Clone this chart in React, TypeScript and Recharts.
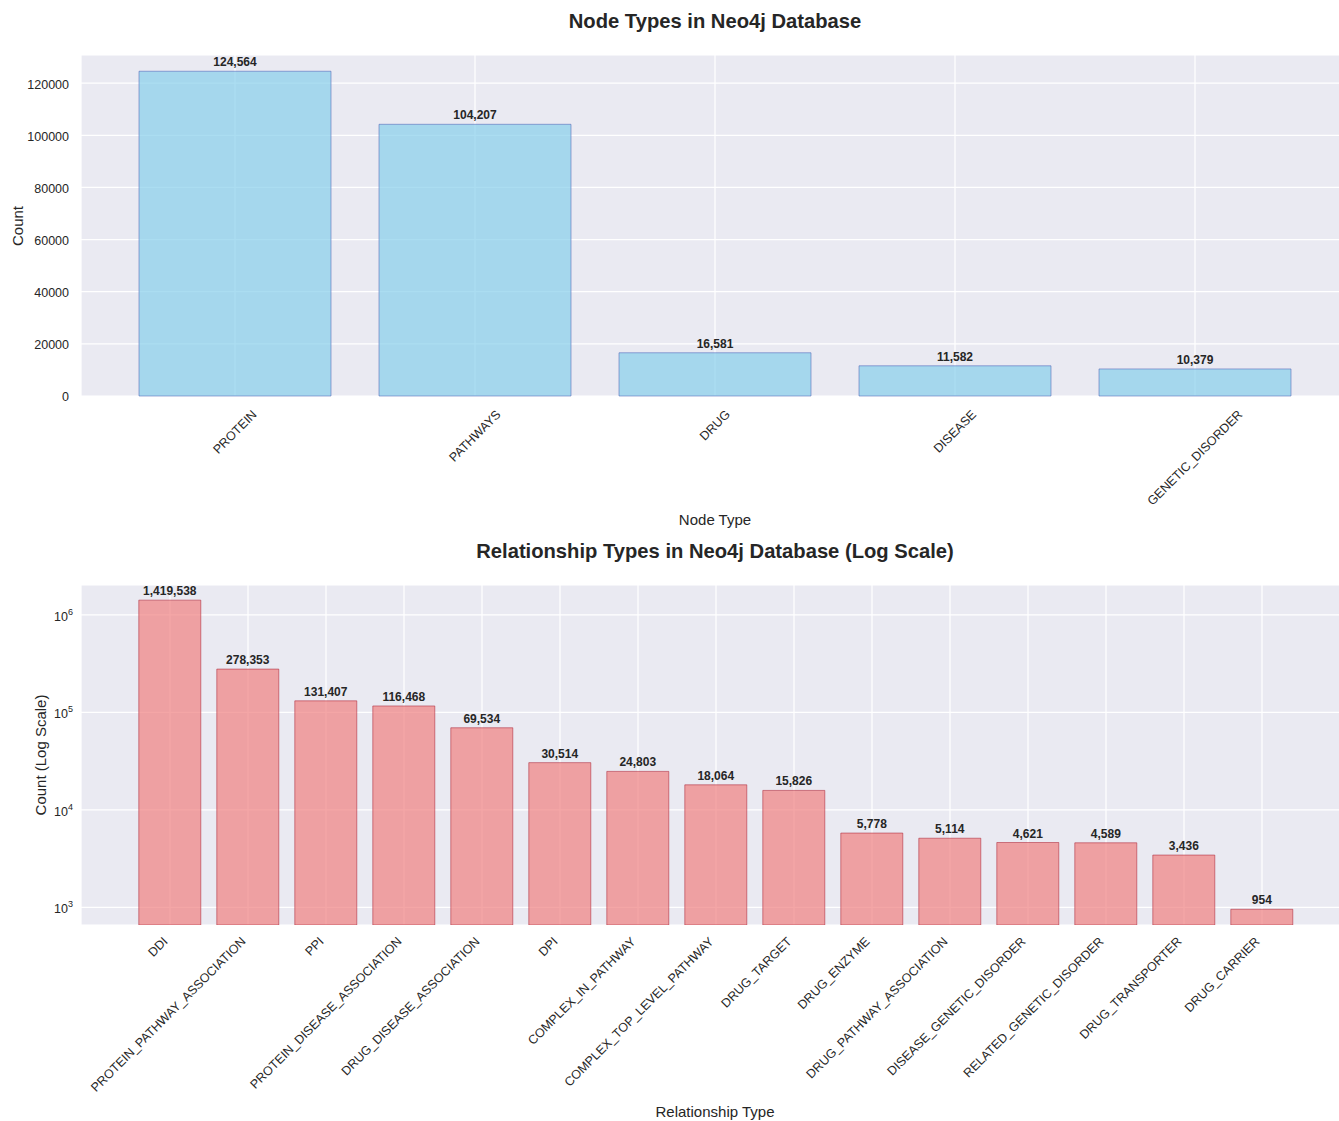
import React from "react";
import { BarChart, Bar, XAxis, YAxis, CartesianGrid } from "recharts";

const nodeTypes = ["PROTEIN", "PATHWAYS", "DRUG", "DISEASE", "GENETIC_DISORDER"];
const nodeCounts = [124564, 104207, 16581, 11582, 10379];
const nodeTicks = [0, 20000, 40000, 60000, 80000, 100000, 120000];

const relTypes = [
  "DDI",
  "PROTEIN_PATHWAY_ASSOCIATION",
  "PPI",
  "PROTEIN_DISEASE_ASSOCIATION",
  "DRUG_DISEASE_ASSOCIATION",
  "DPI",
  "COMPLEX_IN_PATHWAY",
  "COMPLEX_TOP_LEVEL_PATHWAY",
  "DRUG_TARGET",
  "DRUG_ENZYME",
  "DRUG_PATHWAY_ASSOCIATION",
  "DISEASE_GENETIC_DISORDER",
  "RELATED_GENETIC_DISORDER",
  "DRUG_TRANSPORTER",
  "DRUG_CARRIER",
];
const relCounts = [
  1419538, 278353, 131407, 116468, 69534, 30514, 24803, 18064, 15826, 5778, 5114,
  4621, 4589, 3436, 954,
];
const relTicks = [1000, 10000, 100000, 1000000];

const FONT = "'Liberation Sans', Arial, sans-serif";
const TEXT = "#262626";
const TICK_SIZE = 12.5;

const nodeData = nodeTypes.map((name, i) => ({ name, count: nodeCounts[i] }));
const relData = relTypes.map((name, i) => ({ name, count: relCounts[i] }));

let ctx: CanvasRenderingContext2D | null = null;
function textWidth(s: string) {
  if (!ctx) ctx = document.createElement("canvas").getContext("2d");
  if (!ctx) return s.length * 8;
  ctx.font = `${TICK_SIZE}px ${FONT}`;
  return ctx.measureText(s).width;
}

const A = Math.SQRT1_2;

// rotated label, bbox centered on the tick (top chart)
function CenterTick(props: any) {
  const { x, y, payload } = props;
  const L = textWidth(payload.value);
  const h = TICK_SIZE;
  const cy = y + 4 + ((L + h) * A) / 2;
  return (
    <text
      x={x}
      y={cy}
      textAnchor="middle"
      dominantBaseline="central"
      transform={`rotate(-45 ${x} ${cy})`}
      fontSize={TICK_SIZE}
      fontFamily={FONT}
      fill={TEXT}
    >
      {payload.value}
    </text>
  );
}

// rotated label, bbox right edge on the tick (bottom chart)
function RightTick(props: any) {
  const { x, y, payload } = props;
  const h = TICK_SIZE;
  const mx = x - (h * A) / 2;
  const my = y + 2 + (h * A) / 2;
  return (
    <text
      x={mx}
      y={my}
      textAnchor="end"
      dominantBaseline="central"
      transform={`rotate(-45 ${mx} ${my})`}
      fontSize={TICK_SIZE}
      fontFamily={FONT}
      fill={TEXT}
    >
      {payload.value}
    </text>
  );
}

function PowTick(props: any) {
  const { x, y, payload } = props;
  const exp = Math.round(Math.log10(payload.value));
  return (
    <text x={x} y={y + 2} textAnchor="end" dominantBaseline="central" fontSize={TICK_SIZE} fontFamily={FONT} fill={TEXT}>
      10
      <tspan dy={-5} fontSize={9}>
        {exp}
      </tspan>
    </text>
  );
}

function valueLabel(props: any) {
  const { x, y, width, value } = props;
  return (
    <text
      x={x + width / 2}
      y={y - 5}
      textAnchor="middle"
      fontSize={12}
      fontWeight="bold"
      fontFamily={FONT}
      fill={TEXT}
    >
      {Number(value).toLocaleString("en-US")}
    </text>
  );
}

const abs = (style: React.CSSProperties): React.CSSProperties => ({
  position: "absolute",
  fontFamily: FONT,
  color: TEXT,
  whiteSpace: "nowrap",
  ...style,
});

export default function App() {
  return (
    <div
      style={{
        position: "fixed",
        left: 0,
        top: 0,
        width: 1339,
        height: 1121,
        overflow: "hidden",
        background: "#fff",
      }}
    >
      {/* Top chart */}
      <div style={abs({ left: 0, top: 0 })}>
        <BarChart
          width={1380}
          height={531}
          data={nodeData}
          margin={{ top: 55, left: 11, right: 31, bottom: 0 }}
          barCategoryGap="10%"
        >
          <CartesianGrid fill="#EAEAF2" stroke="#ffffff" strokeWidth={1.2} />
          <XAxis
            dataKey="name"
            axisLine={false}
            tickLine={false}
            interval={0}
            height={135}
            padding={{ left: 34, right: 34 }}
            tick={<CenterTick />}
          />
          <YAxis
            width={70}
            domain={[0, 130792]}
            ticks={nodeTicks}
            axisLine={false}
            tickLine={false}
            tickMargin={6}
            tick={{ fontSize: TICK_SIZE, fontFamily: FONT, fill: TEXT, dy: 1 }}
          />
          <Bar
            dataKey="count"
            fill="#87CEEB"
            fillOpacity={0.7}
            stroke="#4f63b8"
            strokeOpacity={0.55}
            strokeWidth={1}
            isAnimationActive={false}
            label={valueLabel}
          />
        </BarChart>
      </div>
      <div style={abs({ left: 0, width: 1430, top: 10, textAlign: "center", fontSize: 20.2, fontWeight: "bold" })}>
        Node Types in Neo4j Database
      </div>
      <div style={abs({ left: 0, width: 1430, top: 511, textAlign: "center", fontSize: 15 })}>Node Type</div>
      <div
        style={abs({
          left: 17,
          top: 226,
          fontSize: 15,
          transform: "translate(-50%, -50%) rotate(-90deg)",
        })}
      >
        Count
      </div>

      {/* Bottom chart */}
      <div style={abs({ left: 0, top: 530 })}>
        <BarChart
          width={1380}
          height={591}
          data={relData}
          margin={{ top: 55, left: 11, right: 29, bottom: 0 }}
          barCategoryGap="10%"
        >
          <CartesianGrid fill="#EAEAF2" stroke="#ffffff" strokeWidth={1.2} />
          <XAxis
            dataKey="name"
            axisLine={false}
            tickLine={false}
            interval={0}
            height={196}
            padding={{ left: 50, right: 50 }}
            tick={<RightTick />}
          />
          <YAxis
            width={70}
            scale="log"
            domain={[658, 2030000]}
            ticks={relTicks}
            allowDataOverflow
            axisLine={false}
            tickLine={false}
            tick={<PowTick />}
          />
          <Bar
            dataKey="count"
            fill="#F08080"
            fillOpacity={0.7}
            stroke="#a8182c"
            strokeOpacity={0.5}
            strokeWidth={1}
            isAnimationActive={false}
            label={valueLabel}
          />
        </BarChart>
      </div>
      <div style={abs({ left: 0, width: 1430, top: 540, textAlign: "center", fontSize: 20.2, fontWeight: "bold" })}>
        Relationship Types in Neo4j Database (Log Scale)
      </div>
      <div style={abs({ left: 0, width: 1430, top: 1103, textAlign: "center", fontSize: 15 })}>
        Relationship Type
      </div>
      <div
        style={abs({
          left: 40,
          top: 755,
          fontSize: 15,
          transform: "translate(-50%, -50%) rotate(-90deg)",
        })}
      >
        Count (Log Scale)
      </div>
    </div>
  );
}
